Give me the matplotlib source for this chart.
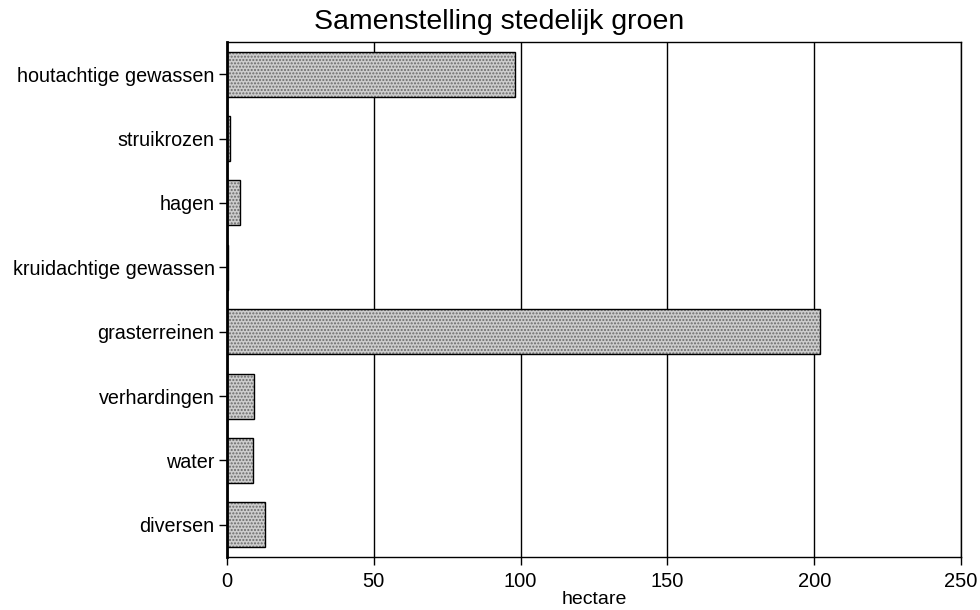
import matplotlib
matplotlib.use("Agg")
import matplotlib.pyplot as plt

categories = ["houtachtige gewassen", "struikrozen", "hagen", "kruidachtige gewassen",
              "grasterreinen", "verhardingen", "water", "diversen"]
values = [98, 1.0, 4.4, 0.5, 202, 9.2, 8.8, 12.9]
xticks = [0, 50, 100, 150, 200, 250]

plt.rcParams['font.family'] = ['Liberation Sans', 'DejaVu Sans']

fig = plt.figure(figsize=(9.8, 6.1), dpi=100)
ax = fig.add_axes([227/980, 1-557/610, (961-227)/980, (557-42)/610])

ypos = list(range(len(categories)))
ax.barh(ypos, values, height=0.7, color='#cdcdcd', edgecolor='#6a6a6a', hatch='.....',
        linewidth=0, zorder=3)
ax.barh(ypos, values, height=0.7, color='none', edgecolor='black', linewidth=1.0, zorder=4)

ax.set_ylim(len(categories) - 0.5, -0.5)
ax.set_xlim(0, 250)
ax.set_xticks(xticks)
ax.set_yticks(ypos)
ax.set_yticklabels(categories)
ax.tick_params(axis='y', direction='out', length=6, width=1, labelsize=14.2, pad=3)
ax.tick_params(axis='x', direction='out', length=6, width=1, labelsize=14.5, pad=5)
ax.xaxis.grid(True, color='black', linewidth=1.0, zorder=1)
ax.set_axisbelow(True)

for s in ['top', 'right', 'bottom']:
    ax.spines[s].set_linewidth(1.0)
ax.spines['left'].set_linewidth(2.0)
ax.spines['left'].set_zorder(5)

ax.set_xlabel("hectare", fontsize=14, labelpad=0)
fig.text(499/980, 1-22/610, "Samenstelling stedelijk groen", ha='center', va='center',
         fontsize=20.5)

fig.savefig("out.png", dpi=100, facecolor='white')
